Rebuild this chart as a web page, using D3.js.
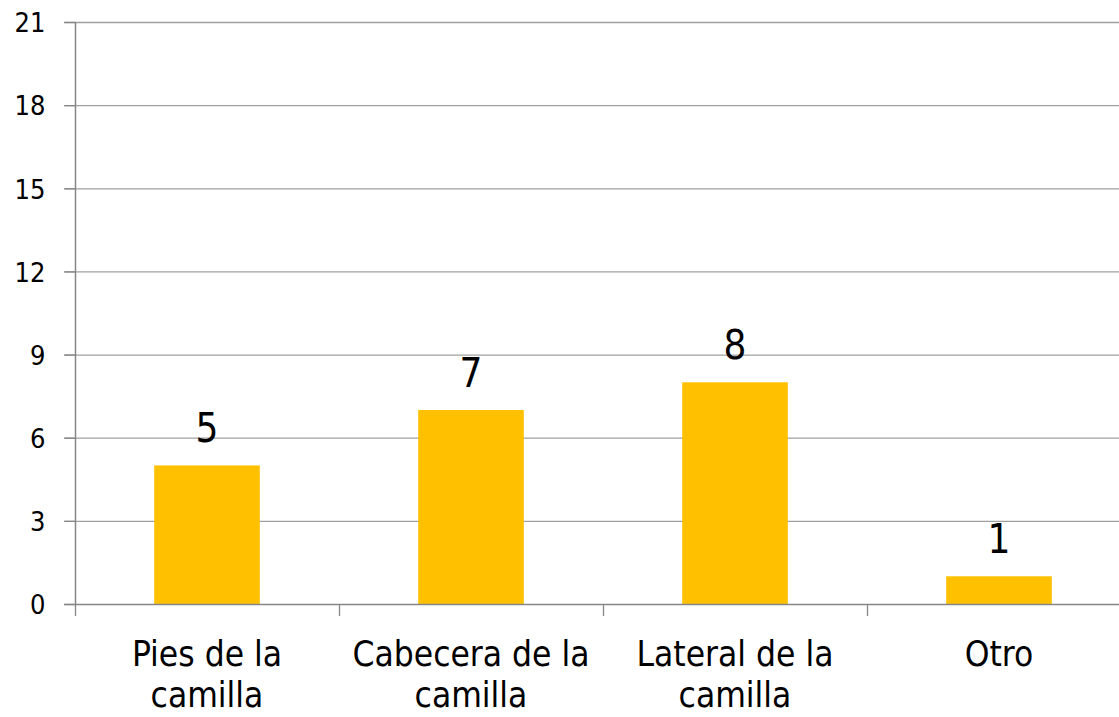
<!DOCTYPE html>
<html>
<head>
<meta charset="utf-8">
<script src="https://cdn.jsdelivr.net/npm/d3@7"></script>
<style>
  body { margin: 0; background: #fff; }
  svg { display: block; }
  text { font-family: "DejaVu Sans Condensed", "DejaVu Sans", sans-serif; font-stretch: condensed; fill: #000; }
</style>
</head>
<body>
<div id="chart"></div>
<script>
// Chart data
const categories = [["Pies de la", "camilla"], ["Cabecera de la", "camilla"], ["Lateral de la", "camilla"], ["Otro"]];
const values = [5, 7, 8, 1];
const yTicks = [0, 3, 6, 9, 12, 15, 18, 21];

const width = 1119, height = 717;
const margin = { left: 75, top: 22, bottom: 113 };
const plotRight = 1131; // plot runs a little past the picture edge

const svg = d3.select("#chart").append("svg")
  .attr("width", width)
  .attr("height", height);

const x = d3.scaleBand()
  .domain(d3.range(values.length))
  .range([margin.left, plotRight])
  .paddingInner(0.6)
  .paddingOuter(0.3);

const y = d3.scaleLinear()
  .domain([0, 21])
  .range([height - margin.bottom, margin.top]);

// Gridlines
svg.append("g")
  .selectAll("line")
  .data(yTicks.filter(d => d > 0))
  .enter().append("line")
  .attr("x1", margin.left - 11).attr("x2", plotRight)
  .attr("y1", d => y(d) + 0.5).attr("y2", d => y(d) + 0.5)
  .attr("stroke", "#a0a0a0")
  .attr("stroke-width", 1.3);

// Bars
svg.append("g")
  .selectAll("rect")
  .data(values)
  .enter().append("rect")
  .attr("x", (d, i) => x(i))
  .attr("width", x.bandwidth())
  .attr("y", d => y(d))
  .attr("height", d => y(0) - y(d))
  .attr("fill", "#ffc000");

// Y axis
const yAxis = svg.append("g")
  .attr("transform", "translate(" + (margin.left + 0.5) + ",0)")
  .call(d3.axisLeft(y).tickValues(yTicks).tickSize(11).tickPadding(19));
yAxis.attr("font-size", null).attr("font-family", null);
yAxis.select(".domain").attr("stroke", "#868686").attr("stroke-width", 1.5)
  .attr("d", "M0," + y(0) + "V" + y(21));
yAxis.selectAll(".tick line").attr("stroke", "#868686").attr("stroke-width", 1.3);
yAxis.selectAll(".tick text")
  .attr("font-size", 27)
  .attr("dy", "0.36em");

// X axis
const ticksX = d3.range(values.length + 1).map(i => margin.left + i * x.step());
svg.append("line")
  .attr("x1", margin.left - 11).attr("x2", plotRight)
  .attr("y1", y(0) + 0.5).attr("y2", y(0) + 0.5)
  .attr("stroke", "#868686").attr("stroke-width", 1.5);
svg.append("g")
  .selectAll("line")
  .data(ticksX)
  .enter().append("line")
  .attr("x1", d => d + 0.5).attr("x2", d => d + 0.5)
  .attr("y1", y(0)).attr("y2", y(0) + 12)
  .attr("stroke", "#868686").attr("stroke-width", 1.3);

// Category labels
const catLabels = svg.append("g")
  .selectAll("text")
  .data(categories)
  .enter().append("text")
  .attr("text-anchor", "middle")
  .attr("font-size", 35)
  .attr("x", (d, i) => x(i) + x.bandwidth() / 2)
  .attr("y", 666);
catLabels.selectAll("tspan")
  .data(d => d)
  .enter().append("tspan")
  .attr("x", function () { return this.parentNode.getAttribute("x"); })
  .attr("dy", (d, i) => i === 0 ? 0 : 41)
  .text(d => d);

// Value labels
svg.append("g")
  .selectAll("text")
  .data(values)
  .enter().append("text")
  .attr("text-anchor", "middle")
  .attr("font-size", 40)
  .attr("x", (d, i) => x(i) + x.bandwidth() / 2)
  .attr("y", d => y(d) - 23)
  .text(d => d);
</script>
</body>
</html>
